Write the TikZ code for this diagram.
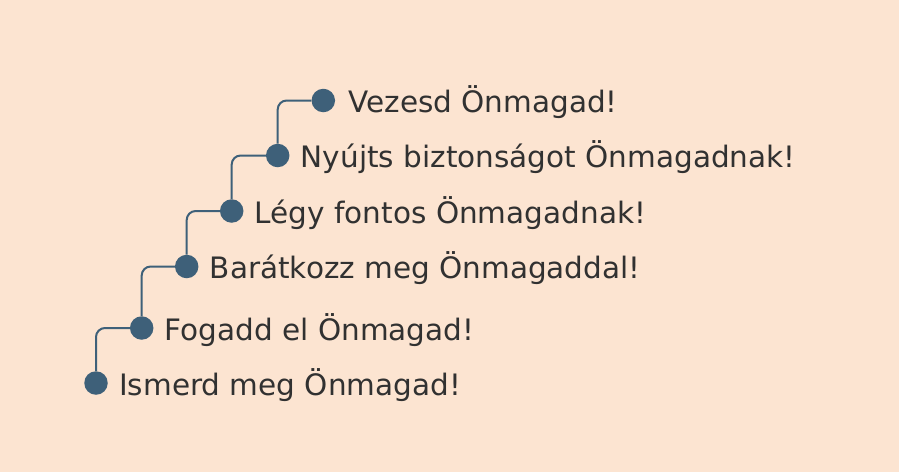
\documentclass[tikz,border=0pt]{standalone}
\usepackage{fontspec}
\setmainfont{DejaVu Sans}
\usetikzlibrary{calc}
\definecolor{bg}{HTML}{FCE4D1}
\definecolor{dotc}{HTML}{3E6079}
\definecolor{txt}{HTML}{313131}
\begin{document}
\begin{tikzpicture}[x=1pt,y=-1pt,
 dotn/.style={circle,fill=dotc,minimum size=23.5pt,inner sep=0pt},
 lbl/.style={anchor=base west,inner sep=0pt,text=txt,font=\fontsize{29.5}{31}\selectfont},
 link/.style={draw=dotc,line width=2pt,rounded corners=9pt}]
\fill[bg] (0,0) rectangle (899,472);
\useasboundingbox (0,0) rectangle (899,472);
\node[dotn] (d1) at (96,383) {};
\node[dotn] (d2) at (141.7,328) {};
\node[dotn] (d3) at (186.7,266.5) {};
\node[dotn] (d4) at (231.7,211) {};
\node[dotn] (d5) at (277.7,155.5) {};
\node[dotn] (d6) at (323.3,100.5) {};
\draw[link] (d1.north) |- (d2.west);
\draw[link] (d2.north) |- (d3.west);
\draw[link] (d3.north) |- (d4.west);
\draw[link] (d4.north) |- (d5.west);
\draw[link] (d5.north) |- (d6.west);
\node[lbl] (t1) at ($(d1)+(23,12)$) {Ismerd meg Önmagad!};
\node[lbl] (t2) at ($(d2)+(23,12)$) {Fogadd el Önmagad!};
\node[lbl] (t3) at ($(d3)+(23,12)$) {Barátkozz meg Önmagaddal!};
\node[lbl] (t4) at ($(d4)+(23,12)$) {Légy fontos Önmagadnak!};
\node[lbl] (t5) at ($(d5)+(23,12)$) {Nyújts biztonságot Önmagadnak!};
\node[lbl] (t6) at ($(d6)+(25,12)$) {Vezesd Önmagad!};
\end{tikzpicture}
\end{document}
